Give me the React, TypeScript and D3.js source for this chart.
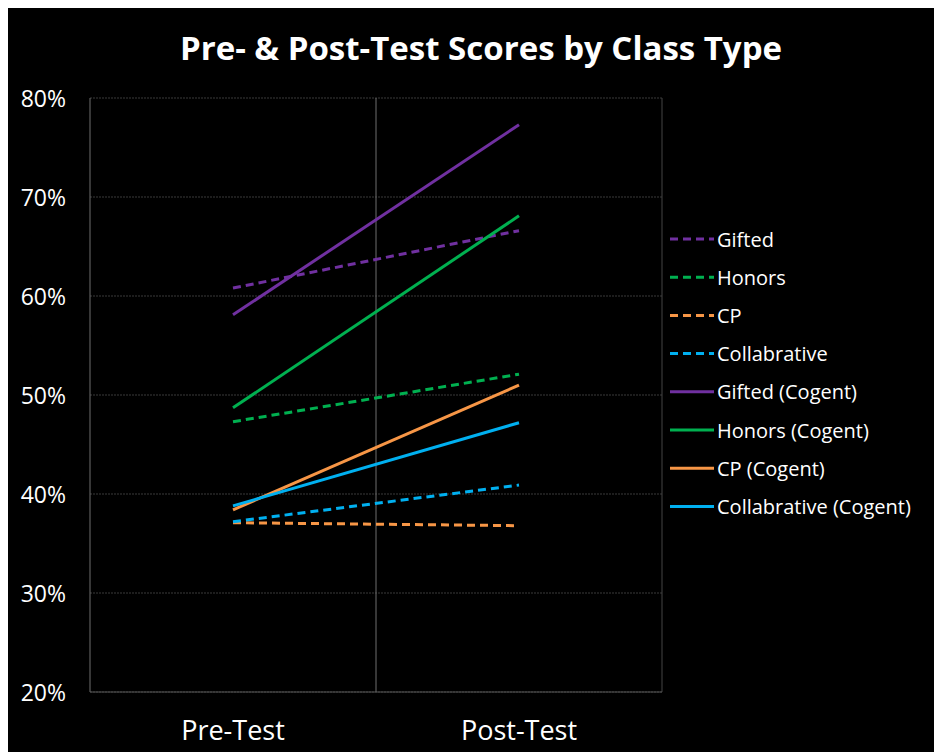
import React from "react";
import * as d3 from "d3";

const categories = ["Pre-Test", "Post-Test"];
const seriesNames = [
  "Gifted",
  "Honors",
  "CP",
  "Collabrative",
  "Gifted (Cogent)",
  "Honors (Cogent)",
  "CP (Cogent)",
  "Collabrative (Cogent)",
];
const seriesColors = ["#7030A0", "#00B050", "#F79646", "#00B0F0", "#7030A0", "#00B050", "#F79646", "#00B0F0"];
const seriesDashed = [true, true, true, true, false, false, false, false];
const giftedValues = [0.608, 0.666];
const honorsValues = [0.473, 0.521];
const cpValues = [0.371, 0.368];
const collabValues = [0.372, 0.409];
const giftedCogentValues = [0.581, 0.773];
const honorsCogentValues = [0.487, 0.681];
const cpCogentValues = [0.384, 0.51];
const collabCogentValues = [0.388, 0.472];
const seriesValues = [
  giftedValues,
  honorsValues,
  cpValues,
  collabValues,
  giftedCogentValues,
  honorsCogentValues,
  cpCogentValues,
  collabCogentValues,
];
const yTicks = [0.2, 0.3, 0.4, 0.5, 0.6, 0.7, 0.8];

const W = 934;
const H = 744;
const plot = { left: 82, right: 654, top: 90, bottom: 684 };
const font = "'Open Sans', 'Liberation Sans', sans-serif";

export default function App() {
  const x = d3.scaleBand().domain(categories).range([plot.left, plot.right]);
  const y = d3.scaleLinear().domain([0.2, 0.8]).range([plot.bottom, plot.top]);
  const line = d3
    .line<number>()
    .x((_, i) => (x(categories[i]) as number) + x.bandwidth() / 2)
    .y((d) => y(d));
  const fmt = d3.format(".0%");
  const legendX = 662;
  const legendY0 = 231;
  const legendStep = 38.2;

  return (
    <svg width={W} height={H} style={{ display: "block" }}>
      <rect x={0} y={0} width={W} height={H} fill="#000" />
      <text x={473} y={52} textAnchor="middle" fill="#fff" fontFamily={font} fontWeight={700} fontSize={33}>
        Pre- &amp; Post-Test Scores by Class Type
      </text>
      {yTicks.map((t) => (
        <line key={t} x1={plot.left} x2={plot.right} y1={y(t)} y2={y(t)} stroke="#3a3a3a" strokeWidth={1} strokeDasharray="2,1" />
      ))}
      <line x1={plot.left + x.bandwidth()} x2={plot.left + x.bandwidth()} y1={plot.top} y2={plot.bottom} stroke="#6e6e6e" strokeWidth={1} />
      <line x1={plot.right} x2={plot.right} y1={plot.top} y2={plot.bottom} stroke="#444" strokeWidth={1} />
      <line x1={plot.left} x2={plot.left} y1={plot.top} y2={plot.bottom} stroke="#6e6e6e" strokeWidth={1} />
      <line x1={plot.left} x2={plot.right} y1={plot.bottom} y2={plot.bottom} stroke="#555" strokeWidth={1} />
      {yTicks.map((t) => (
        <text key={t} x={58} y={y(t) + 8.5} textAnchor="end" fill="#fff" fontFamily={font} fontSize={23}>
          {fmt(t)}
        </text>
      ))}
      {categories.map((c) => (
        <text key={c} x={(x(c) as number) + x.bandwidth() / 2} y={732} textAnchor="middle" fill="#fff" fontFamily={font} fontSize={27}>
          {c}
        </text>
      ))}
      {seriesValues.map((vals, i) => (
        <path
          key={seriesNames[i]}
          d={line(vals) || ""}
          fill="none"
          stroke={seriesColors[i]}
          strokeWidth={3}
          strokeDasharray={seriesDashed[i] ? "8,5" : undefined}
        />
      ))}
      {seriesNames.map((n, i) => (
        <g key={n} transform={`translate(${legendX},${legendY0 + i * legendStep})`}>
          <line x1={0} x2={44} y1={0} y2={0} stroke={seriesColors[i]} strokeWidth={3} strokeDasharray={seriesDashed[i] ? "8,5" : undefined} />
          <text x={47} y={7.5} fill="#fff" fontFamily={font} fontSize={20}>
            {n}
          </text>
        </g>
      ))}
    </svg>
  );
}
